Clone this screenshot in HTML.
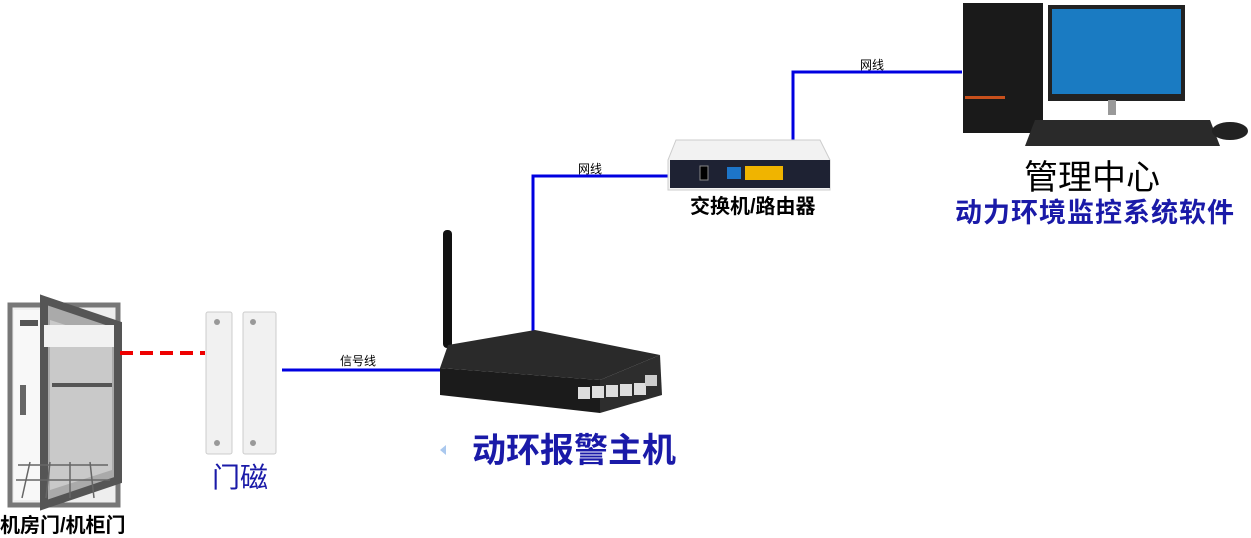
<!DOCTYPE html>
<html><head><meta charset="utf-8"><style>
body{margin:0;width:1251px;height:538px;background:#fff;position:relative;overflow:hidden;font-family:"Liberation Sans","Noto Sans CJK SC",sans-serif}
.t{position:absolute;white-space:nowrap}
</style></head><body>
<svg width="1251" height="538" style="position:absolute;left:0;top:0">
<rect x="10" y="305" width="108" height="200" fill="#eee" stroke="#777" stroke-width="5"/>
<rect x="14" y="310" width="30" height="190" fill="#f8f8f8"/>
<polygon points="44,300 118,325 118,480 44,505" fill="#aaa" stroke="#555" stroke-width="8"/>
<polygon points="50,320 112,340 112,470 50,490" fill="#c9c9c9"/>
<rect x="44" y="325" width="70" height="22" fill="#f2f2f2"/>
<line x1="52" y1="385" x2="112" y2="385" stroke="#555" stroke-width="4"/>
<rect x="20" y="320" width="18" height="6" fill="#555"/>
<rect x="20" y="385" width="6" height="30" fill="#666"/>
<g stroke="#666" stroke-width="1.5"><line x1="18" y1="465" x2="108" y2="465"/><line x1="16" y1="480" x2="110" y2="480"/><line x1="30" y1="462" x2="22" y2="498"/><line x1="50" y1="462" x2="46" y2="498"/><line x1="70" y1="462" x2="70" y2="498"/><line x1="90" y1="462" x2="94" y2="498"/></g>
<line x1="120" y1="353" x2="205" y2="353" stroke="#e00" stroke-width="4" stroke-dasharray="13,7"/>
<rect x="206" y="312" width="26" height="142" rx="2" fill="#f1f1f1" stroke="#ccc"/>
<rect x="243" y="312" width="33" height="142" rx="2" fill="#f1f1f1" stroke="#ccc"/>
<circle cx="217" cy="322" r="3" fill="#999"/><circle cx="217" cy="443" r="3" fill="#999"/>
<circle cx="253" cy="322" r="3" fill="#999"/><circle cx="253" cy="443" r="3" fill="#999"/>
<g stroke="#0000e0" stroke-width="3" fill="none">
<polyline points="282,370 445,370"/>
<polyline points="533,332 533,176 670,176"/>
<polyline points="793,140 793,72 962,72"/>
</g>
<rect x="443" y="230" width="9" height="118" rx="4" fill="#111"/>
<polygon points="448,345 535,330 660,355 600,380 440,368" fill="#2a2a2a"/>
<polygon points="440,368 600,380 600,413 440,395" fill="#1b1b1b"/>
<polygon points="600,380 660,355 662,395 600,413" fill="#2d2d2d"/>
<g fill="#ddd"><rect x="578" y="387" width="12" height="12"/><rect x="592" y="386" width="12" height="12"/><rect x="606" y="385" width="12" height="12"/><rect x="620" y="384" width="12" height="12"/><rect x="634" y="383" width="12" height="12"/></g>
<rect x="645" y="375" width="12" height="11" fill="#ccc"/>
<polygon points="440,450 446,445 446,455" fill="#aac8ee"/>
<path d="M676,140 L820,140 L830,160 L830,190 L668,190 L668,160 Z" fill="#f2f2f2" stroke="#ccc"/>
<rect x="670" y="160" width="160" height="28" fill="#1e2233"/>
<rect x="745" y="166" width="38" height="14" fill="#f0b400"/>
<rect x="727" y="167" width="14" height="12" fill="#1d75c8"/>
<rect x="700" y="166" width="8" height="14" fill="#000" stroke="#888"/>
<rect x="963" y="3" width="80" height="130" fill="#1a1a1a"/>
<rect x="965" y="96" width="40" height="3" fill="#c8501c"/>
<rect x="1048" y="5" width="137" height="96" fill="#222"/>
<rect x="1052" y="9" width="129" height="85" fill="#1a7bc2"/>
<rect x="1108" y="100" width="8" height="15" fill="#999"/>
<polygon points="1035,120 1210,120 1220,146 1025,146" fill="#2a2a2a"/>
<ellipse cx="1230" cy="131" rx="18" ry="9" fill="#222"/>
</svg>
<div class="t" style="left:340px;top:352px;font-size:12px">信号线</div>
<div class="t" style="left:578px;top:160px;font-size:12px">网线</div>
<div class="t" style="left:860px;top:56px;font-size:12px">网线</div>
<div class="t" style="left:0;top:509px;font-size:20px;font-weight:bold">机房门/机柜门</div>
<div class="t" style="left:212px;top:456px;font-size:28px;color:#1a1aa8">门磁</div>
<div class="t" style="left:472px;top:423px;font-size:34px;font-weight:bold;color:#1a1aa8">动环报警主机</div>
<div class="t" style="left:690px;top:190px;font-size:20px;font-weight:bold">交换机/路由器</div>
<div class="t" style="left:1024px;top:150px;font-size:34px">管理中心</div>
<div class="t" style="left:955px;top:191px;font-size:27px;font-weight:bold;color:#1a1aa8;letter-spacing:1px">动力环境监控系统软件</div>
</body></html>
